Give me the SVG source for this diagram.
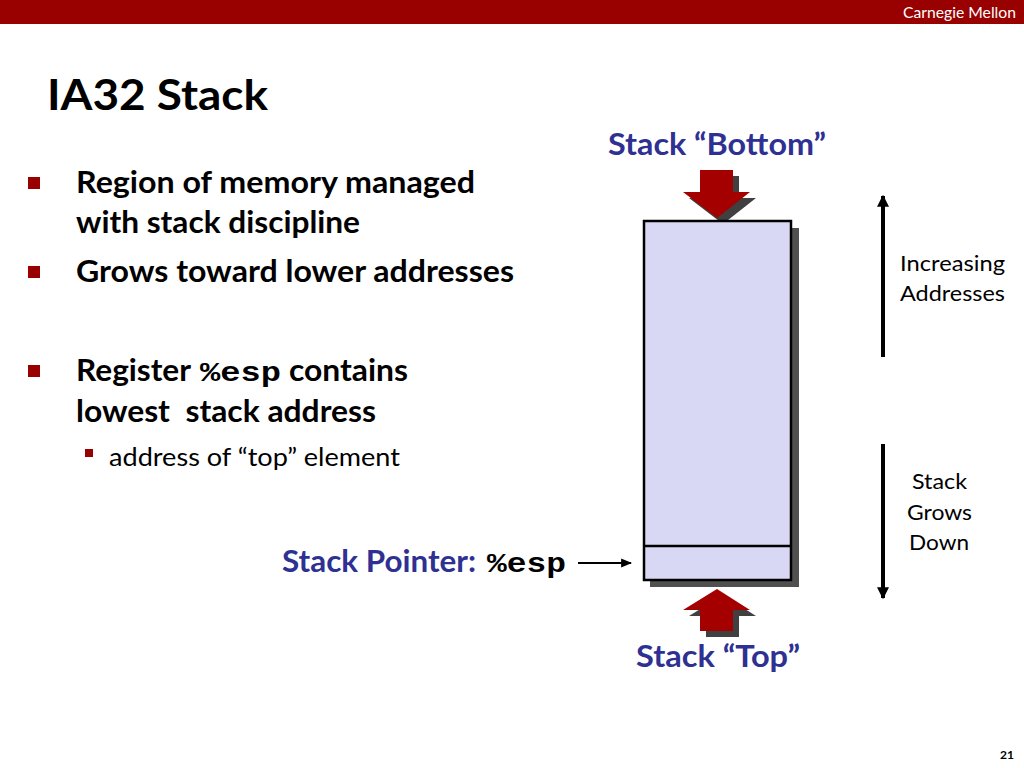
<svg xmlns="http://www.w3.org/2000/svg" width="1024" height="768" viewBox="0 0 1024 768">
<defs>
<style>
.sans{font-family:Lato,"Open Sans","Liberation Sans",sans-serif}
.b{font-weight:bold}
.blue{fill:#2E3192}
.mono{font-family:"Liberation Mono","DejaVu Sans Mono",monospace;font-weight:bold}
.bul{fill:#990000}
.arw{stroke:#000;stroke-width:4;fill:none}
</style>
<marker id="ah" viewBox="0 0 10 10" refX="9" refY="5" markerWidth="3" markerHeight="3" orient="auto"><path d="M0,0 L10,5 L0,10 z" fill="#000"/></marker>
<marker id="ah2" viewBox="0 0 10 10" refX="9" refY="5" markerWidth="5" markerHeight="5" orient="auto"><path d="M0,1 L10,5 L0,9 z" fill="#000"/></marker>
</defs>
<rect width="1024" height="768" fill="#fff"/>
<rect width="1024" height="24" fill="#990000"/>
<text x="1016" y="18" text-anchor="end" class="sans" font-size="15" fill="#fff" textLength="113" lengthAdjust="spacingAndGlyphs">Carnegie Mellon</text>
<text x="47" y="110" class="sans b" font-size="42" fill="#000" textLength="221" lengthAdjust="spacingAndGlyphs">IA32 Stack</text>

<g id="bullets" class="sans b" font-size="30" fill="#000">
<rect x="28" y="177" width="12" height="12" class="bul"/>
<text x="76" y="193" textLength="399" lengthAdjust="spacingAndGlyphs">Region of memory managed</text>
<text x="76" y="233" textLength="284" lengthAdjust="spacingAndGlyphs">with stack discipline</text>
<rect x="28" y="266" width="12" height="12" class="bul"/>
<text x="76" y="282" textLength="438" lengthAdjust="spacingAndGlyphs">Grows toward lower addresses</text>
<rect x="28" y="365" width="12" height="12" class="bul"/>
<text x="76" y="381" textLength="115" lengthAdjust="spacingAndGlyphs">Register</text>
<text x="200" y="381" class="mono" font-size="28" textLength="81" lengthAdjust="spacingAndGlyphs">%esp</text>
<text x="289" y="381" textLength="119" lengthAdjust="spacingAndGlyphs">contains</text>
<text x="76" y="422" xml:space="preserve" textLength="300" lengthAdjust="spacingAndGlyphs">lowest  stack address</text>
<rect x="85" y="449" width="8" height="8" class="bul"/>
<text x="109" y="466" font-weight="normal" font-size="25" textLength="291" lengthAdjust="spacingAndGlyphs">address of “top” element</text>
</g>

<g id="label-bottom"><text x="608" y="155" class="sans b blue" font-size="30" textLength="218" lengthAdjust="spacingAndGlyphs">Stack “Bottom”</text></g>

<g id="arrow-bottom">
<path d="M706,176 L739,176 L739,198 L756,198 L723,224 L689,198 L706,198 z" fill="#404040"/>
<path d="M700,170 L733,170 L733,192 L750,192 L717,218 L683,192 L700,192 z" fill="#A50000"/>
</g>

<g id="stack">
<rect x="650" y="228" width="149" height="359" fill="#505050"/>
<rect x="644" y="221" width="147" height="359" fill="#D8D8F4" stroke="#000" stroke-width="2.5"/>
<line x1="644" y1="546" x2="791" y2="546" stroke="#000" stroke-width="2.5"/>
</g>

<g id="arrow-top">
<path d="M723,595 L756,616 L739,616 L739,637 L706,637 L706,616 L689,616 z" fill="#404040"/>
<path d="M717,589 L750,610 L733,610 L733,631 L700,631 L700,610 L683,610 z" fill="#A50000"/>
</g>
<g id="label-top"><text x="636" y="667" class="sans b blue" font-size="30" textLength="164" lengthAdjust="spacingAndGlyphs">Stack “Top”</text></g>

<g id="label-sp">
<text x="282" y="572" class="sans b blue" font-size="30" textLength="194" lengthAdjust="spacingAndGlyphs">Stack Pointer:</text>
<text x="487" y="572" class="mono" fill="#000" font-size="28" textLength="79" lengthAdjust="spacingAndGlyphs">%esp</text>
</g>

<g id="connectors">
<line x1="578" y1="563" x2="631" y2="563" stroke="#000" stroke-width="2.2" marker-end="url(#ah2)"/>
<line x1="883" y1="357" x2="883" y2="196" class="arw" marker-end="url(#ah)"/>
<line x1="883" y1="444" x2="883" y2="598" class="arw" marker-end="url(#ah)"/>
</g>

<g id="label-inc" class="sans" font-size="22" fill="#000">
<text x="900" y="271" textLength="105" lengthAdjust="spacingAndGlyphs">Increasing</text>
<text x="900" y="301" textLength="105" lengthAdjust="spacingAndGlyphs">Addresses</text>
</g>
<g id="label-grow" class="sans" font-size="22" fill="#000">
<text x="912" y="489" textLength="55" lengthAdjust="spacingAndGlyphs">Stack</text>
<text x="907" y="520" textLength="65" lengthAdjust="spacingAndGlyphs">Grows</text>
<text x="909" y="550" textLength="60" lengthAdjust="spacingAndGlyphs">Down</text>
</g>
<text x="1014" y="759" text-anchor="end" class="sans b" font-size="12" fill="#000">21</text>
</svg>
